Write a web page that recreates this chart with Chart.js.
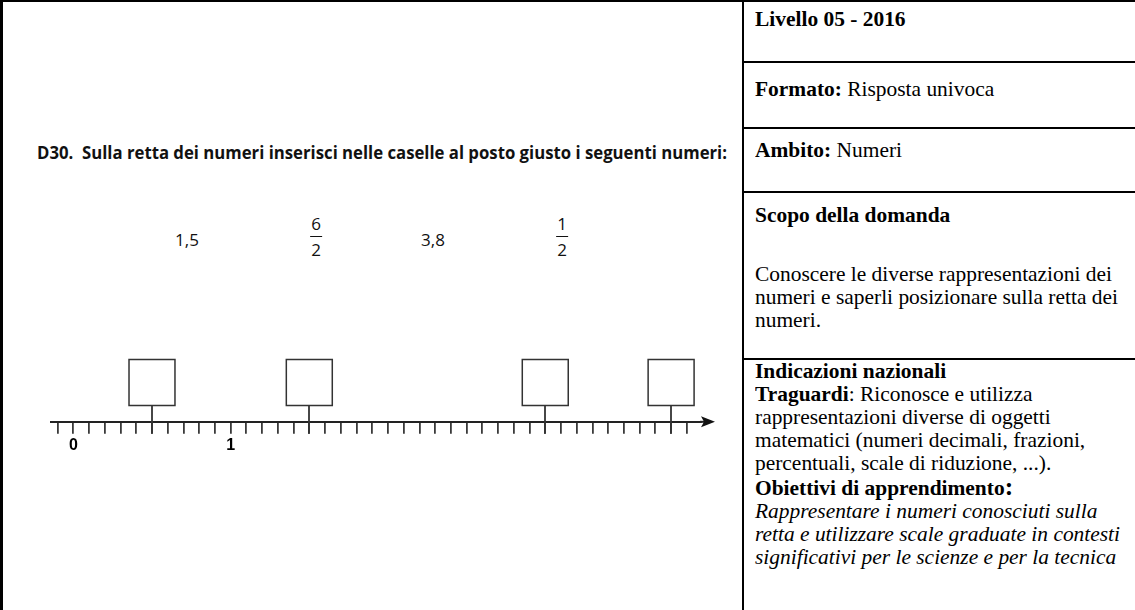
<!DOCTYPE html>
<html lang="it">
<head>
<meta charset="utf-8">
<title>D30 - retta dei numeri</title>
<script src="https://cdn.jsdelivr.net/npm/chart.js@4.4.1/dist/chart.umd.min.js"></script>
<style>
  html, body { margin: 0; padding: 0; }
  body {
    width: 1135px; height: 610px; position: relative; overflow: hidden;
    background: #fff; color: #000;
    font-family: "Liberation Serif", "Times New Roman", serif;
  }
  #frame-left {
    position: absolute; left: 0; top: 0; width: 739px; height: 640px;
    border-left: 3px solid #000; border-top: 2px solid #000; border-right: 2px solid #000;
  }
  .hline { position: absolute; left: 742px; right: 0; height: 2px; background: #000; }
  .cell {
    position: absolute; left: 755px; font-size: 21px; line-height: 23px; white-space: nowrap;
    transform-origin: left top;
  }
  .cell b { font-weight: bold; }
  .bigcolon { font-size: 25px; line-height: 0; font-weight: bold; }
  #question {
    position: absolute; left: 37px; top: 141px; white-space: nowrap;
    font-family: "Open Sans", "Liberation Sans", sans-serif; font-weight: bold; font-size: 17px;
    transform-origin: left center; color: #111;
  }
  .num {
    position: absolute; top: 214px; transform: translateX(-50%);
    font-family: "Open Sans", "Liberation Sans", sans-serif; font-size: 17px; color: #111;
    text-align: center;
  }
  .num.plain { top: 228px; }
  .frac { display: inline-block; line-height: 19px; }
  .frac span { display: block; padding: 0 1px; }
  .frac span + span { border-top: 1.5px solid #111; margin-top: 3px; padding-top: 3px; }
  #line-wrap { position: absolute; left: 0; top: 343px; width: 740px; height: 120px; }
  #probe { position: absolute; visibility: hidden; font-size: 21px; white-space: nowrap; }
</style>
</head>
<body>
<div id="frame-left"></div>

<div id="question">D30.&nbsp; Sulla retta dei numeri inserisci nelle caselle al posto giusto i seguenti numeri:</div>

<div id="line-wrap"><canvas id="numberLine" width="740" height="120"></canvas></div>

<!-- tabella a destra -->
<div class="hline" style="top:0"></div>
<div class="cell" style="top:8px"><b>Livello 05 - 2016</b></div>
<div class="hline" style="top:61px"></div>
<div class="cell" style="top:78px"><b>Formato:</b> Risposta univoca</div>
<div class="hline" style="top:127px"></div>
<div class="cell" style="top:139px"><b>Ambito:</b> Numeri</div>
<div class="hline" style="top:191px"></div>
<div class="cell" style="top:204px"><b>Scopo della domanda</b></div>
<div class="cell" style="top:263px">Conoscere le diverse rappresentazioni dei<br>numeri e saperli posizionare sulla retta dei<br>numeri.</div>
<div class="hline" style="top:358px"></div>
<div class="cell" style="top:360px"><b>Indicazioni nazionali</b><br><b>Traguardi</b>: Riconosce e utilizza<br>rappresentazioni diverse di oggetti<br>matematici (numeri decimali, frazioni,<br>percentuali, scale di riduzione, ...).</div>
<div class="cell" style="top:477px"><b>Obiettivi di apprendimento</b><span class="bigcolon">:</span><br><i>Rappresentare i numeri conosciuti sulla<br>retta e utilizzare scale graduate in contesti<br>significativi per le scienze e per la tecnica</i></div>
<span id="probe">Conoscere le diverse rappresentazioni dei</span>

<script>
// numeri da collocare (testo mostrato sopra la retta)
const numberItems = [['1,5'], ['6', '2'], ['3,8'], ['1', '2']];
const numberSlotsX = [187, 316, 433, 562];

// retta dei numeri
const tickStep = 0.1;
const tickLabelValues = [0, 1];
const tickLabels = ['0', '1'];
const boxValues = [0.5, 1.5, 3, 3.8];   // posizioni delle caselle
const boxLevel = 0.5;

// testo dei numeri
numberItems.forEach((item, i) => {
  const d = document.createElement('div');
  d.className = item.length === 1 ? 'num plain' : 'num';
  d.style.left = numberSlotsX[i] + 'px';
  if (item.length === 1) d.textContent = item[0];
  else d.innerHTML = '<span class="frac"><span>' + item[0] + '</span><span>' + item[1] + '</span></span>';
  document.body.appendChild(d);
});

// larghezze come nell'originale
const q = document.getElementById('question');
q.style.transform = 'scaleX(' + (690 / q.getBoundingClientRect().width) + ')';
const cellScale = 357 / document.getElementById('probe').getBoundingClientRect().width;
document.querySelectorAll('.cell').forEach(c => { c.style.transform = 'scaleX(' + cellScale + ')'; });

// stanghette delle caselle + freccia
const numberLineExtras = {
  id: 'numberLineExtras',
  afterDraw(chart) {
    const { ctx, chartArea, scales } = chart;
    const y0 = chartArea.bottom;
    ctx.save();
    ctx.strokeStyle = '#333';
    ctx.lineWidth = 1.8;
    boxValues.forEach(v => {
      const x = Math.round(scales.x.getPixelForValue(v));
      const yb = scales.y.getPixelForValue(boxLevel) + 23;
      ctx.beginPath();
      ctx.moveTo(x, yb);
      ctx.lineTo(x, y0 + 12);
      ctx.stroke();
    });
    // prolungamento e freccia
    ctx.strokeStyle = '#222';
    ctx.lineWidth = 2;
    ctx.beginPath();
    ctx.moveTo(chartArea.right - 1, y0);
    ctx.lineTo(chartArea.right + 4, y0);
    ctx.stroke();
    ctx.fillStyle = '#111';
    ctx.beginPath();
    ctx.moveTo(chartArea.right, y0 - 5.5);
    ctx.lineTo(chartArea.right + 14, y0);
    ctx.lineTo(chartArea.right, y0 + 5.5);
    ctx.lineTo(chartArea.right + 3, y0);
    ctx.closePath();
    ctx.fill();
    ctx.restore();
  }
};

new Chart(document.getElementById('numberLine'), {
  type: 'scatter',
  data: {
    datasets: [{
      label: 'caselle',
      data: boxValues.map(v => ({ x: v, y: boxLevel })),
      pointStyle: 'rect',
      pointRadius: 32.5,
      pointBackgroundColor: '#fff',
      pointBorderColor: '#333',
      pointBorderWidth: 1.5,
      clip: false
    }]
  },
  options: {
    responsive: false,
    animation: false,
    events: [],
    layout: { autoPadding: false, padding: { left: 51, right: 39, top: 0, bottom: 6 } },
    plugins: { legend: { display: false }, tooltip: { enabled: false } },
    scales: {
      x: {
        type: 'linear',
        min: -0.142,
        max: 3.99,
        border: { display: true, color: '#222', width: 2 },
        grid: { drawOnChartArea: false, drawTicks: true, tickLength: 12, color: '#3a3a3a', lineWidth: 1.8 },
        ticks: {
          stepSize: tickStep,
          includeBounds: false,
          autoSkip: false,
          maxRotation: 0,
          padding: 2,
          color: '#000',
          font: { family: 'Liberation Sans, Arial, sans-serif', size: 16, weight: 'bold' },
          callback: (value) => {
            const i = tickLabelValues.findIndex(v => Math.abs(v - value) < 1e-6);
            return i >= 0 ? tickLabels[i] : '';
          }
        }
      },
      y: { display: false, min: 0, max: 1 }
    }
  },
  plugins: [numberLineExtras]
});
</script>
</body>
</html>
